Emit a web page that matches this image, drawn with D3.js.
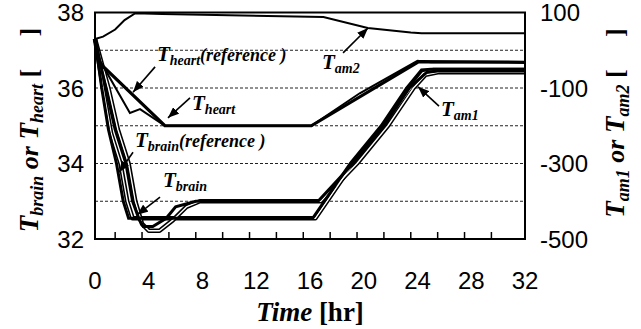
<!DOCTYPE html>
<meta charset="utf-8">
<style>
body { margin: 0; background: #fff; }
.tick-label { font-family: "Liberation Sans", Arial, sans-serif; font-size: 24px; fill: #000; }
.rich { font-family: "Liberation Serif", "Times New Roman", serif; font-weight: bold; font-style: italic; fill: #000; }
.grid line { stroke: #222; stroke-width: 1; stroke-dasharray: 3,2; }
</style>
<body>
<svg width="641" height="329"></svg>
<script src="https://d3js.org/d3.v7.min.js"></script>
<script>

// time axis
var xLabels = [0, 4, 8, 12, 16, 20, 24, 28, 32];
var xTickMarks = [1.5, 3.5, 5.5, 7.5, 9.5, 11.5, 13.5, 15.5, 17.5, 19.5, 21.5, 23.5, 25.5, 27.5, 29.5];
var leftTicks = [32, 34, 36, 38];
var rightTicks = [-500, -300, -100, 100];
var gridVals = [33, 34, 35, 36, 37];

// left axis series (deg C)
var heartRefT = [0, 0.35, 5.2, 16.1, 24.1, 32];
var heartRefV = [37.3, 36.66, 35.0, 35.0, 36.7, 36.68];
var heartT = [0, 0.22, 2.6, 3.35, 5.2, 16.1, 19.7, 24.0, 25.0, 32];
var heartV = [37.3, 36.82, 35.34, 35.44, 35.0, 35.0, 35.86, 36.72, 36.68, 36.68];
var brainRefT = [0, 0.5, 1.0, 1.6, 2.1, 2.5, 16.2, 19.0, 21.3, 23.2, 24.3, 25.0, 32];
var brainRefV = [37.3, 36.0, 34.9, 34.0, 33.0, 32.55, 32.55, 34.0, 35.0, 36.0, 36.48, 36.5, 36.5];
var brainT = [0, 0.8, 1.5, 2.3, 2.8, 3.3, 3.6, 4.3, 5.3, 6.0, 7.5, 16.6, 19.2, 21.5, 23.4, 24.7, 25.5, 32];
var brainV = [37.3, 36.0, 34.9, 34.0, 33.0, 32.5, 32.33, 32.33, 32.55, 32.85, 33.0, 33.0, 34.0, 35.0, 36.0, 36.42, 36.45, 36.45];

// right axis series
var am1aT = [0, 0.6, 1.2, 1.9, 2.4, 2.8, 16.4, 19.2, 21.5, 23.5, 24.4, 25.2, 32];
var am1aV = [30, -100, -220, -300, -400, -445, -445, -300, -200, -100, -60, -52, -52];
var am1bT = [0, 1.0, 1.7, 2.5, 3.0, 3.5, 4.0, 4.8, 5.8, 6.8, 7.8, 16.8, 19.5, 21.8, 23.7, 24.6, 25.6, 32];
var am1bV = [30, -100, -210, -300, -400, -460, -478, -478, -450, -415, -400, -400, -300, -200, -100, -65, -58, -58];
var am2T = [0, 0.6, 1.5, 2.2, 3.0, 5.0, 17.0, 20.3, 23.5, 24.3, 32];
var am2V = [30, 36, 55, 80, 98, 96, 88, 59, 47, 45, 45];

var svg = d3.select("svg"),
    pl = 95, pr = 525, pt = 12.5, pb = 239;

var x = d3.scaleLinear().domain([0, 32]).range([pl, pr]);
var yL = d3.scaleLinear().domain([32, 38]).range([pb, pt]);
var yR = d3.scaleLinear().domain([-500, 100]).range([pb, pt]);

// grid
svg.append("g").attr("class", "grid")
  .selectAll("line").data(gridVals).enter().append("line")
    .attr("x1", pl).attr("x2", pr)
    .attr("y1", function(d) { return yL(d); })
    .attr("y2", function(d) { return yL(d); });

var lineL = function(ts, vs) {
  return d3.line().x(function(d, i) { return x(ts[i]); }).y(function(d) { return yL(d); })(vs);
};
var lineR = function(ts, vs) {
  return d3.line().x(function(d, i) { return x(ts[i]); }).y(function(d) { return yR(d); })(vs);
};

// hollow T_am1 lines
[[am1aT, am1aV], [am1bT, am1bV]].forEach(function(s) {
  svg.append("path").attr("d", lineR(s[0], s[1]))
    .attr("fill", "none").attr("stroke", "#000").attr("stroke-width", 4.5).attr("stroke-linejoin", "round");
});
[[am1aT, am1aV], [am1bT, am1bV]].forEach(function(s) {
  svg.append("path").attr("d", lineR(s[0], s[1]))
    .attr("fill", "none").attr("stroke", "#fff").attr("stroke-width", 1.4).attr("stroke-linejoin", "round");
});

// solid lines
svg.append("path").attr("d", lineR(am2T, am2V))
  .attr("fill", "none").attr("stroke", "#000").attr("stroke-width", 2);
svg.append("path").attr("d", lineL(heartRefT, heartRefV))
  .attr("fill", "none").attr("stroke", "#000").attr("stroke-width", 3.2);
svg.append("path").attr("d", lineL(heartT, heartV))
  .attr("fill", "none").attr("stroke", "#000").attr("stroke-width", 2);
svg.append("path").attr("d", lineL(brainRefT, brainRefV))
  .attr("fill", "none").attr("stroke", "#000").attr("stroke-width", 3);
svg.append("path").attr("d", lineL(brainT, brainV))
  .attr("fill", "none").attr("stroke", "#000").attr("stroke-width", 3);

// frame
svg.append("rect").attr("x", pl).attr("y", pt)
  .attr("width", pr - pl).attr("height", pb - pt)
  .attr("fill", "none").attr("stroke", "#000").attr("stroke-width", 2);

// inward tick marks on time axis
svg.append("g").selectAll("line").data(xTickMarks).enter().append("line")
  .attr("x1", function(d) { return x(d); }).attr("x2", function(d) { return x(d); })
  .attr("y1", pb).attr("y2", pb - 7)
  .attr("stroke", "#000").attr("stroke-width", 1.5);

// tick labels
svg.append("g").selectAll("text").data(xLabels).enter().append("text")
  .attr("class", "tick-label").attr("text-anchor", "middle")
  .attr("x", function(d) { return x(d); }).attr("y", 289)
  .text(function(d) { return d; });
svg.append("g").selectAll("text").data(leftTicks).enter().append("text")
  .attr("class", "tick-label").attr("text-anchor", "end")
  .attr("x", 84).attr("y", function(d) { return yL(d) + 8.5; })
  .text(function(d) { return d; });
svg.append("g").selectAll("text").data(rightTicks).enter().append("text")
  .attr("class", "tick-label").attr("text-anchor", "start")
  .attr("x", 540).attr("y", function(d) { return yR(d) + 8.5; })
  .text(function(d) { return d; });

// rich text helper: parts = [text, size, subShift, upright]
function rich(g, px, py, parts, anchor, transform) {
  var t = g.append("text").attr("class", "rich")
    .attr("x", px).attr("y", py)
    .attr("text-anchor", anchor || "start")
    .style("white-space", "pre");
  if (transform) t.attr("transform", transform);
  var shifted = 0;
  parts.forEach(function(p) {
    var sh = p[2] ? p[2] : 0;
    var ts = t.append("tspan").attr("font-size", p[1]).attr("dy", sh - shifted).text(p[0]);
    if (p[3]) ts.style("font-style", "normal");
    shifted = sh;
  });
  return t;
}

// arrows
svg.append("defs").append("marker")
  .attr("id", "ah").attr("viewBox", "0 0 10 8")
  .attr("refX", 10).attr("refY", 4)
  .attr("markerUnits", "userSpaceOnUse")
  .attr("markerWidth", 11).attr("markerHeight", 9)
  .attr("orient", "auto")
  .append("path").attr("d", "M0,0L10,4L0,8Z").attr("fill", "#000");

var arrows = [
  [4.47, 36.56, 2.83, 35.89],
  [7.07, 35.74, 5.43, 35.21],
  [2.83, 34.30, 1.79, 33.77],
  [4.84, 33.11, 3.13, 32.64],
  [18.46, 36.93, 20.32, 37.59],
  [25.6, 35.52, 24.04, 36.03]
];
svg.append("g").selectAll("line").data(arrows).enter().append("line")
  .attr("x1", function(d) { return x(d[0]); }).attr("y1", function(d) { return yL(d[1]); })
  .attr("x2", function(d) { return x(d[2]); }).attr("y2", function(d) { return yL(d[3]); })
  .attr("stroke", "#000").attr("stroke-width", 1.6)
  .attr("marker-end", "url(#ah)");

// annotations
rich(svg, x(4.61), yL(36.72), [["T", 21], ["heart", 14, 4], ["(reference )", 18]]);
rich(svg, x(7.22), yL(35.42), [["T", 21], ["heart", 14, 4]]);
rich(svg, x(2.98), yL(34.44), [["T", 21], ["brain", 14, 4], ["(reference )", 18]]);
rich(svg, x(5.06), yL(33.38), [["T", 21], ["brain", 14, 4]]);
rich(svg, x(16.89), yL(36.50), [["T", 21], ["am2", 14, 4]]);
rich(svg, x(25.75), yL(35.26), [["T", 21], ["am1", 14, 4]]);

// axis titles
rich(svg, 310, 321, [["Time", 27], [" [hr]", 27, 0, true]], "middle");
rich(svg, 0, 0, [["T", 27], ["brain", 18, 5], [" or ", 26], ["T", 27], ["heart", 18, 5], [" [\u00a0\u00a0\u00a0\u00a0\u00a0]", 26, 0, true]],
  "middle", "translate(38,130) rotate(-90)");
rich(svg, 0, 0, [["T", 27], ["am1", 18, 5], [" or ", 26], ["T", 27], ["am2", 18, 5], [" [\u00a0\u00a0\u00a0\u00a0\u00a0]", 26, 0, true]],
  "middle", "translate(624,123) rotate(-90)");

</script>
</body>
